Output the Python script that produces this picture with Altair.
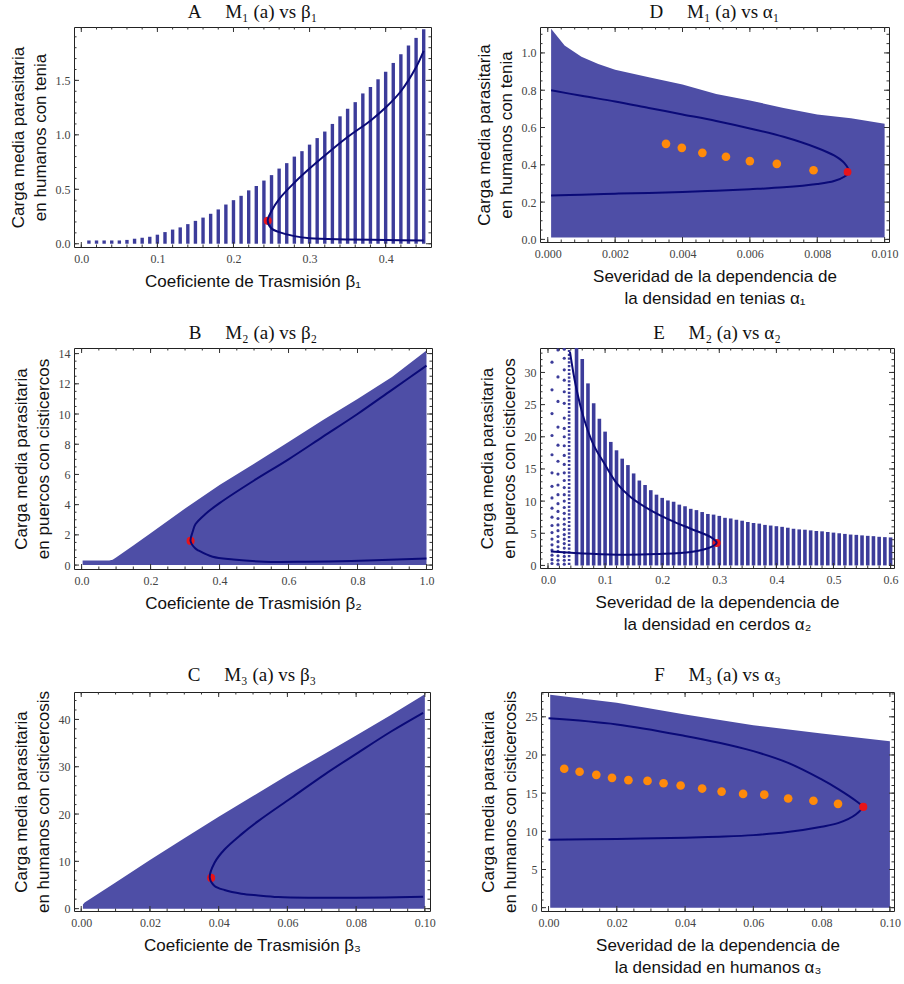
import numpy as np
import pandas as pd
import altair as alt

# ---------------- data ----------------
# A: M1 vs beta1 (columns of simulated loads)
A_x = [0.01, 0.02, 0.03, 0.04, 0.05, 0.06, 0.07, 0.08, 0.09, 0.10,
       0.11, 0.12, 0.13, 0.14, 0.15, 0.16, 0.17, 0.18, 0.19, 0.20,
       0.21, 0.22, 0.23, 0.24, 0.25, 0.26, 0.27, 0.28, 0.29, 0.30,
       0.31, 0.32, 0.33, 0.34, 0.35, 0.36, 0.37, 0.38, 0.39, 0.40,
       0.41, 0.42, 0.43, 0.44, 0.45]
A_top = [0.03, 0.03, 0.03, 0.03, 0.03, 0.035, 0.046, 0.055, 0.064, 0.083,
         0.107, 0.13, 0.15, 0.18, 0.21, 0.24, 0.275, 0.315, 0.36, 0.40,
         0.44, 0.49, 0.53, 0.58, 0.63, 0.69, 0.74, 0.80, 0.85, 0.91,
         0.97, 1.03, 1.10, 1.17, 1.24, 1.30, 1.38, 1.44, 1.51, 1.58,
         1.66, 1.74, 1.82, 1.89, 1.97]
A_curve_x = [0.45, 0.44, 0.42, 0.40, 0.38, 0.35, 0.32, 0.30, 0.28, 0.26, 0.25, 0.245,
             0.25, 0.26, 0.28, 0.30, 0.35, 0.40, 0.45]
A_curve_y = [1.77, 1.62, 1.40, 1.25, 1.13, 0.98, 0.81, 0.69, 0.56, 0.41, 0.30, 0.21,
             0.14, 0.107, 0.07, 0.05, 0.04, 0.035, 0.03]
A_fold = (0.245, 0.21)

# D: M1 vs alpha1
D_x = [0.0001, 0.0005, 0.001, 0.0015, 0.002, 0.003, 0.004, 0.005, 0.006, 0.007, 0.008, 0.009, 0.010]
D_top = [1.13, 1.04, 0.98, 0.94, 0.91, 0.87, 0.83, 0.78, 0.745, 0.705, 0.67, 0.65, 0.62]
D_curve_x = [0.0001, 0.001, 0.002, 0.003, 0.004, 0.005, 0.006, 0.007, 0.008, 0.0085, 0.0088, 0.00894,
             0.0088, 0.0085, 0.008, 0.007, 0.006, 0.005, 0.004, 0.003, 0.002, 0.001, 0.0001]
D_curve_y = [0.80, 0.77, 0.74, 0.705, 0.67, 0.635, 0.595, 0.55, 0.49, 0.45, 0.41, 0.3625,
             0.336, 0.313, 0.297, 0.279, 0.269, 0.261, 0.254, 0.249, 0.245, 0.24, 0.236]
D_orange_x = [0.00351, 0.00398, 0.00459, 0.00529, 0.0060, 0.0068, 0.00789]
D_orange_y = [0.5125, 0.491, 0.464, 0.443, 0.42, 0.405, 0.371]
D_fold = (0.0089, 0.362)

# B: M2 vs beta2
B_x = [0.003, 0.08, 0.09, 0.10, 0.15, 0.20, 0.30, 0.40, 0.50, 0.60, 0.70, 0.80, 0.90, 1.00]
B_top = [0.3, 0.3, 0.35, 0.5, 1.3, 2.1, 3.75, 5.3, 6.7, 8.15, 9.6, 11.0, 12.45, 14.2]
B_curve_x = [1.0, 0.9, 0.8, 0.7, 0.6, 0.5, 0.4, 0.36, 0.33, 0.322, 0.316,
             0.33, 0.34, 0.38, 0.44, 0.53, 0.65, 0.75, 0.85, 1.0]
B_curve_y = [13.2, 11.6, 10.0, 8.5, 7.0, 5.6, 4.1, 3.4, 2.7, 2.2, 1.59,
             1.1, 0.95, 0.55, 0.37, 0.22, 0.22, 0.26, 0.32, 0.44]
B_fold = (0.316, 1.6)

# E: M2 vs alpha2
E_x = [0.05, 0.06, 0.07, 0.08, 0.09, 0.10, 0.11, 0.12, 0.13, 0.14,
       0.15, 0.16, 0.17, 0.18, 0.19, 0.20, 0.21, 0.22, 0.23, 0.24,
       0.25, 0.26, 0.27, 0.28, 0.29, 0.30, 0.31, 0.32, 0.33, 0.34,
       0.35, 0.36, 0.37, 0.38, 0.39, 0.40, 0.41, 0.42, 0.43, 0.44,
       0.45, 0.46, 0.47, 0.48, 0.49, 0.50, 0.51, 0.52, 0.53, 0.54,
       0.55, 0.56, 0.57, 0.58, 0.59, 0.60]
E_top = [40.0, 32.1, 28.3, 25.2, 22.8, 20.8, 19.2, 17.9, 16.6, 15.6,
         14.3, 13.2, 12.5, 11.7, 11.0, 10.5, 10.1, 9.9, 9.45, 9.2,
         8.8, 8.6, 8.3, 8.0, 7.9, 7.7, 7.4, 7.3, 7.1, 6.95,
         6.75, 6.6, 6.5, 6.3, 6.2, 6.1, 6.0, 5.86, 5.7, 5.6,
         5.55, 5.45, 5.35, 5.3, 5.2, 5.1, 5.0, 4.9, 4.8, 4.75,
         4.67, 4.6, 4.55, 4.45, 4.4, 4.35]
E_col1_y = [31.6, 27.3, 23.6, 20.2, 17.2, 14.4, 12.3, 10.5, 8.9, 7.5, 6.2, 5.1, 4.1, 3.2, 2.4, 1.6, 0.9, 0.3]
E_col2_y = [33.5, 29.3, 25.5, 21.5, 18.7, 16.2, 14.2, 12.5, 11.0, 9.6, 8.4, 7.3, 6.3, 5.4, 4.5, 3.7,
            2.9, 2.2, 1.5, 0.8, 0.2]
E_col3_y = [33.6, 32.2, 30.4, 28.8, 27.0, 25.2, 22.9, 21.3, 20.0, 18.6, 17.1, 15.7, 14.4, 13.2, 12.1,
            11.0, 10.0, 9.0, 8.1, 7.2, 6.4, 5.6, 4.8, 4.1, 3.4, 2.7, 2.0, 1.4, 0.8, 0.2]
E_cols_x = [0.007, 0.0175, 0.0285]
E_col4_x = 0.037
E_curve_x = [0.0385, 0.0485, 0.063, 0.08, 0.099, 0.121, 0.145, 0.18, 0.215, 0.25, 0.285, 0.2954,
             0.285, 0.25, 0.19, 0.133, 0.075, 0.005]
E_curve_y = [33.2, 28.0, 22.8, 18.7, 15.8, 12.7, 10.6, 8.56, 7.0, 5.7, 4.4, 3.53,
             2.85, 2.08, 1.76, 1.66, 1.82, 2.18]
E_fold = (0.2954, 3.5)

# C: M3 vs beta3
C_x = [0.0005, 0.001, 0.01, 0.02, 0.03, 0.04, 0.05, 0.06, 0.07, 0.08, 0.09, 0.10]
C_top = [0.9, 1.3, 5.5, 10.3, 14.9, 19.4, 23.8, 28.2, 32.4, 36.6, 40.9, 45.3]
C_curve_x = [0.0995, 0.0903, 0.0806, 0.0709, 0.0612, 0.0515, 0.0466, 0.0417, 0.0388, 0.0374,
             0.0388, 0.0417, 0.0466, 0.0515, 0.0573, 0.066, 0.08, 0.0995]
C_curve_y = [41.4, 37.5, 33.0, 28.4, 23.45, 18.5, 15.7, 12.5, 9.7, 6.55,
             4.8, 3.94, 3.17, 2.8, 2.46, 2.3, 2.3, 2.5]
C_fold = (0.0378, 6.5)

# F: M3 vs alpha3
F_x = [0.0005, 0.02, 0.04, 0.06, 0.08, 0.10]
F_top = [27.9, 26.85, 25.3, 23.9, 22.8, 21.8]
F_curve_x = [0.0, 0.02, 0.04, 0.05, 0.06, 0.07, 0.08, 0.085, 0.09, 0.0919,
             0.09, 0.085, 0.08, 0.07, 0.06, 0.05, 0.04, 0.02, 0.0]
F_curve_y = [24.8, 24.0, 22.5, 21.6, 20.5, 19.0, 16.8, 15.5, 14.0, 13.2,
             12.2, 11.1, 10.6, 9.9, 9.5, 9.3, 9.17, 9.0, 8.9]
F_orange_x = [0.0046, 0.0091, 0.014, 0.0186, 0.0234, 0.029, 0.0337, 0.0387, 0.045, 0.0507,
              0.057, 0.0632, 0.0702, 0.0776, 0.0848]
F_orange_y = [18.2, 17.8, 17.4, 17.0, 16.7, 16.6, 16.3, 16.0, 15.6, 15.2,
              14.9, 14.8, 14.3, 14.0, 13.6]
F_fold = (0.0922, 13.2)

# ---------------- style ----------------
BAR = "#3c3c9a"
FILL = "#4e4ea6"
CURVE = "#0a0a78"
RED = "#e8141a"
ORANGE = "#ff8a0a"
INK = "#333333"
SERIF = "Liberation Serif"
SANS = "Liberation Sans"
GAP = "\u00a0" * 5


def scale(dom):
    return alt.Scale(domain=dom, nice=False, zero=False)


def enc_xy(xf, yf, xdom, ydom):
    return dict(x=alt.X(f"{xf}:Q", scale=scale(xdom), axis=None),
                y=alt.Y(f"{yf}:Q", scale=scale(ydom), axis=None))


def ticks(lo, hi, step):
    n0 = int(np.ceil(lo / step - 1e-9))
    n1 = int(np.floor(hi / step + 1e-9))
    return [round(k * step, 6) for k in range(n0, n1 + 1)]


def frame(xdom, ydom, xmaj, xstep, ymaj, ystep, xfmt, yfmt, xtitle, ytitle):
    """Mathematica-style frame: labelled bottom/left axes plus inward ticks on all four sides."""
    layers = []
    # labels and titles
    df0 = pd.DataFrame({"x": [xdom[0]], "y": [ydom[0]]})
    common = dict(domain=False, grid=False, ticks=False, labelOverlap=False, labelFlush=False,
                  labelFont=SERIF, labelFontSize=12, labelColor="#444444",
                  titleFont=SANS, titleFontSize=17, titleFontWeight="normal",
                  titleColor="#111111", titleLineHeight=22)
    xax = alt.Axis(orient="bottom", values=xmaj, format=xfmt, labelPadding=6,
                   title=xtitle, titlePadding=9, **common)
    yax = alt.Axis(orient="left", values=ymaj, format=yfmt, labelPadding=4,
                   title=ytitle, titlePadding=6, **common)
    layers.append(alt.Chart(df0).mark_point(opacity=0).encode(
        x=alt.X("x:Q", scale=scale(xdom), axis=xax),
        y=alt.Y("y:Q", scale=scale(ydom), axis=yax)))
    # inward ticks: half of each tick is clipped away by the frame
    xminor = ticks(xdom[0], xdom[1], xstep)
    yminor = ticks(ydom[0], ydom[1], ystep)
    for vals, length in ((xmaj, 10), (xminor, 5)):
        for yv in ydom:
            df = pd.DataFrame({"x": vals, "y": [yv] * len(vals)})
            layers.append(alt.Chart(df).mark_tick(orient="vertical", size=length, thickness=1,
                                                  color=INK, opacity=1, clip=True).encode(
                **enc_xy("x", "y", xdom, ydom)))
    for vals, length in ((ymaj, 10), (yminor, 5)):
        for xv in xdom:
            df = pd.DataFrame({"x": [xv] * len(vals), "y": vals})
            layers.append(alt.Chart(df).mark_tick(orient="horizontal", size=length, thickness=1,
                                                  color=INK, opacity=1, clip=True).encode(
                **enc_xy("x", "y", xdom, ydom)))
    return layers


def curve_layer(cx, cy, xdom, ydom):
    df = pd.DataFrame({"x": cx, "y": cy, "i": list(range(len(cx)))})
    return alt.Chart(df).mark_line(color=CURVE, strokeWidth=2, clip=True,
                                   interpolate="catmull-rom").encode(
        order="i:Q", **enc_xy("x", "y", xdom, ydom))


def point_layer(px, py, color, size, xdom, ydom):
    df = pd.DataFrame({"x": px, "y": py})
    return alt.Chart(df).mark_circle(color=color, size=size, opacity=1, clip=True).encode(
        **enc_xy("x", "y", xdom, ydom))


def columns_layer(cx, ctop, width, xdom, ydom, color=BAR, opacity=1.0):
    df = pd.DataFrame({"x": cx, "top": ctop, "bottom": [0.0] * len(cx)})
    return alt.Chart(df).mark_rule(color=color, strokeWidth=width, opacity=opacity,
                                   strokeCap="butt", clip=True).encode(
        x=alt.X("x:Q", scale=scale(xdom), axis=None),
        y=alt.Y("top:Q", scale=scale(ydom), axis=None),
        y2="bottom:Q")


def envelope_layer(ex, etop, xdom, ydom, bottom=0.0):
    df = pd.DataFrame({"x": ex, "top": etop, "bottom": [bottom] * len(ex)})
    return alt.Chart(df).mark_area(color=FILL, opacity=1, clip=True, interpolate="linear").encode(
        x=alt.X("x:Q", scale=scale(xdom), axis=None),
        y=alt.Y("top:Q", scale=scale(ydom), axis=None),
        y2="bottom:Q")


def panel(title, marks, axes, w, h):
    # the labelled axis layer goes first; every other layer has axis=None
    return alt.layer(axes[0], *marks, *axes[1:]).resolve_axis(
        x="independent", y="independent").properties(
        width=w, height=h,
        title=alt.Title(title, font=SERIF, fontSize=19, fontWeight="normal",
                        color="#111111", offset=5, anchor="middle"))


Y_TENIA = ["Carga media parasitaria", "en humanos con tenia"]
Y_CERDOS = ["Carga media parasitaria", "en puercos con cisticercos"]
Y_CISTI = ["Carga media parasitaria", "en humanos con cisticercosis"]

# ---- A ----
xa, ya = [-0.0096, 0.4596], [-0.03, 1.99]
pA = panel(f"A{GAP}M\u2081 (a) vs \u03b2\u2081", [
    columns_layer(A_x, A_top, 3.4, xa, ya),
    point_layer([A_fold[0]], [A_fold[1]], RED, 65, xa, ya),
    curve_layer(A_curve_x, A_curve_y, xa, ya),
], frame(xa, ya, [0.0, 0.1, 0.2, 0.3, 0.4], 0.02, [0.0, 0.5, 1.0, 1.5], 0.1,
         ".1f", ".1f", "Coeficiente de Trasmisión  \u03b2\u2081", Y_TENIA), 357, 220)

# ---- D ----
xd, yd = [-0.00023, 0.01013], [-0.014, 1.139]
pD = panel(f"D{GAP}M\u2081 (a) vs \u03b1\u2081", [
    envelope_layer(D_x, D_top, xd, yd, bottom=0.01),
    curve_layer(D_curve_x, D_curve_y, xd, yd),
    point_layer(D_orange_x, D_orange_y, ORANGE, 75, xd, yd),
    point_layer([D_fold[0]], [D_fold[1]], RED, 60, xd, yd),
], frame(xd, yd, [0.0, 0.002, 0.004, 0.006, 0.008, 0.010], 0.0004,
         [0.0, 0.2, 0.4, 0.6, 0.8, 1.0], 0.05, ".3f", ".1f",
         ["Severidad de la dependencia de", "la densidad en tenias  \u03b1\u2081"], Y_TENIA), 349, 215)

# ---- B ----
xb, yb = [-0.022, 1.016], [-0.26, 14.37]
pB = panel(f"B{GAP}M\u2082 (a) vs \u03b2\u2082", [
    envelope_layer(B_x, B_top, xb, yb),
    point_layer([B_fold[0]], [B_fold[1]], RED, 65, xb, yb),
    curve_layer(B_curve_x, B_curve_y, xb, yb),
], frame(xb, yb, [0.0, 0.2, 0.4, 0.6, 0.8, 1.0], 0.05,
         [0, 2, 4, 6, 8, 10, 12, 14], 0.5, ".1f", "d",
         "Coeficiente de Trasmisión  \u03b2\u2082", Y_CERDOS), 358, 221)

# ---- E ----
xe, ye = [-0.014, 0.606], [-0.4, 33.8]
e_dots_x = [E_cols_x[0]] * len(E_col1_y) + [E_cols_x[1]] * len(E_col2_y) + [E_cols_x[2]] * len(E_col3_y)
e_dots_y = E_col1_y + E_col2_y + E_col3_y
e_dash = alt.Chart(pd.DataFrame({"x": [E_col4_x], "top": [40.0], "bottom": [0.0]})).mark_rule(
    color=BAR, strokeWidth=2.6, strokeDash=[2.2, 1.6], clip=True).encode(
    x=alt.X("x:Q", scale=scale(xe), axis=None),
    y=alt.Y("top:Q", scale=scale(ye), axis=None), y2="bottom:Q")
pE = panel(f"E{GAP}M\u2082 (a) vs \u03b1\u2082", [
    columns_layer(E_x, E_top, 3.6, xe, ye),
    point_layer(e_dots_x, e_dots_y, BAR, 10, xe, ye),
    e_dash,
    point_layer([E_fold[0]], [E_fold[1]], RED, 65, xe, ye),
    curve_layer(E_curve_x, E_curve_y, xe, ye),
], frame(xe, ye, [0.0, 0.1, 0.2, 0.3, 0.4, 0.5, 0.6], 0.02,
         [0, 5, 10, 15, 20, 25, 30], 1, ".1f", "d",
         ["Severidad de la dependencia de", "la densidad en cerdos \u03b1\u2082"], Y_CERDOS), 354, 220)

# ---- C ----
xc, yc = [-0.0021, 0.1015], [-0.5, 45.8]
pC = panel(f"C{GAP}M\u2083 (a) vs \u03b2\u2083", [
    envelope_layer(C_x, C_top, xc, yc),
    point_layer([C_fold[0]], [C_fold[1]], RED, 65, xc, yc),
    curve_layer(C_curve_x, C_curve_y, xc, yc),
], frame(xc, yc, [0.0, 0.02, 0.04, 0.06, 0.08, 0.10], 0.005,
         [0, 10, 20, 30, 40], 2, ".2f", "d",
         "Coeficiente de Trasmisión  \u03b2\u2083", Y_CISTI), 356, 219)

# ---- F ----
xf, yf = [-0.0022, 0.1012], [-0.44, 28.25]
pF = panel(f"F{GAP}M\u2083 (a) vs \u03b1\u2083", [
    envelope_layer(F_x, F_top, xf, yf),
    curve_layer(F_curve_x, F_curve_y, xf, yf),
    point_layer(F_orange_x, F_orange_y, ORANGE, 75, xf, yf),
    point_layer([F_fold[0]], [F_fold[1]], RED, 65, xf, yf),
], frame(xf, yf, [0.0, 0.02, 0.04, 0.06, 0.08, 0.10], 0.005,
         [0, 5, 10, 15, 20, 25], 1, ".2f", "d",
         ["Severidad de la dependencia de", "la densidad en humanos \u03b1\u2083"], Y_CISTI), 353, 219)

row1 = alt.hconcat(pA, pD, spacing=42)
row2 = alt.hconcat(pB, pE, spacing=42)
row3 = alt.hconcat(pC, pF, spacing=42)

chart = alt.vconcat(alt.vconcat(row1, row2, spacing=16), row3, spacing=32).properties(
    padding={"left": 8, "top": 2, "right": 2, "bottom": 2},
    background="white",
).configure_view(stroke="#222222", strokeWidth=1)

chart.save("out.html", embed_options={"renderer": "svg", "actions": False})
